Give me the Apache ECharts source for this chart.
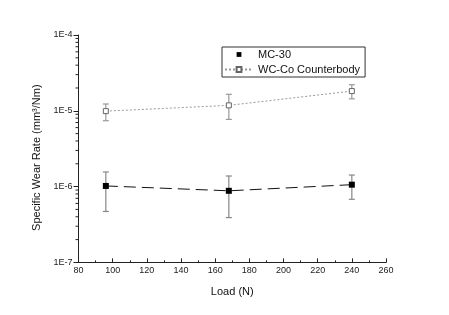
<!DOCTYPE html>
<html>
<head>
<meta charset="utf-8">
<script src="https://cdn.jsdelivr.net/npm/echarts@6/dist/echarts.min.js"></script>
<style>
html, body { margin: 0; padding: 0; background: #fff; }
#chart { width: 449px; height: 315px; }
</style>
</head>
<body>
<div id="chart"></div>
<script>
// data
var loads = [96, 168, 240];
var mcRate = [1.02e-6, 0.88e-6, 1.06e-6];
var mcHigh = [1.56e-6, 1.38e-6, 1.42e-6];
var mcLow = [0.47e-6, 0.39e-6, 0.68e-6];
var wcRate = [0.99e-5, 1.18e-5, 1.82e-5];
var wcHigh = [1.23e-5, 1.65e-5, 2.21e-5];
var wcLow = [0.74e-5, 0.77e-5, 1.44e-5];
var yMinorTicks = [
	2e-7, 3e-7, 4e-7, 5e-7, 6e-7, 7e-7, 8e-7, 9e-7,
	2e-6, 3e-6, 4e-6, 5e-6, 6e-6, 7e-6, 8e-6, 9e-6,
	2e-5, 3e-5, 4e-5, 5e-5, 6e-5, 7e-5, 8e-5, 9e-5
];

var font = 'Liberation Sans, Arial, sans-serif';

var pairs = function (xs, ys) {
	var out = [];
	for (var i = 0; i < xs.length; i++) out.push([xs[i], ys[i]]);
	return out;
};
var errData = function (lo, hi) {
	var out = [];
	for (var i = 0; i < loads.length; i++) out.push([loads[i], lo[i], hi[i]]);
	return out;
};

// vertical error bar with caps
var errorBar = function (color) {
	return function (params, api) {
		var x = api.value(0);
		var lo = api.coord([x, api.value(1)]);
		var hi = api.coord([x, api.value(2)]);
		var w = 3;
		var st = { stroke: color, lineWidth: 1.2 };
		return {
			type: 'group',
			children: [
				{ type: 'line', shape: { x1: lo[0], y1: lo[1], x2: hi[0], y2: hi[1] }, style: st },
				{ type: 'line', shape: { x1: lo[0] - w, y1: lo[1], x2: lo[0] + w, y2: lo[1] }, style: st },
				{ type: 'line', shape: { x1: hi[0] - w, y1: hi[1], x2: hi[0] + w, y2: hi[1] }, style: st }
			]
		};
	};
};

var myChart = echarts.init(document.getElementById('chart'));
var option = {
	animation: false,
	backgroundColor: '#fff',
	grid: { left: 78.5, right: 63, top: 35, bottom: 52.6 },
	legend: {
		orient: 'vertical',
		left: 222,
		top: 47,
		itemGap: 2,
		itemWidth: 28,
		itemHeight: 6,
		padding: [1, 5, 1, 2],
		borderColor: '#333',
		borderWidth: 1,
		textStyle: { fontFamily: font, fontSize: 11, lineHeight: 13, color: '#111' },
		data: [
			{ name: 'MC-30', lineStyle: { opacity: 0 } },
			{ name: 'WC-Co Counterbody' }
		]
	},
	xAxis: {
		type: 'value',
		min: 80,
		max: 260,
		interval: 20,
		name: 'Load (N)',
		nameLocation: 'middle',
		nameGap: 24,
		nameTextStyle: { fontFamily: font, fontSize: 11, color: '#111' },
		axisLine: { lineStyle: { color: '#222', width: 1 } },
		axisTick: { inside: true, length: 4, lineStyle: { color: '#222' } },
		minorTick: { show: true, splitNumber: 2, length: 2, lineStyle: { color: '#222' } },
		axisLabel: { fontFamily: font, fontSize: 9, color: '#222', margin: 4 },
		splitLine: { show: false }
	},
	yAxis: {
		type: 'log',
		logBase: 10,
		min: 1e-7,
		max: 1e-4,
		name: 'Specific Wear Rate (mm\u00b3/Nm)',
		nameLocation: 'middle',
		nameGap: 30,
		nameTextStyle: { fontFamily: font, fontSize: 11, color: '#111', padding: [0, 18, 0, 0] },
		axisLine: { show: true, lineStyle: { color: '#222', width: 1 } },
		axisTick: { show: true, length: 5, lineStyle: { color: '#222' } },
		axisLabel: {
			fontFamily: font, fontSize: 9, color: '#222', margin: 6,
			formatter: function (v) { return '1E' + Math.round(Math.log10(v)); }
		},
		splitLine: { show: false }
	},
	series: [
		{
			name: 'MC-30',
			type: 'line',
			data: pairs(loads, mcRate),
			symbol: 'rect',
			symbolSize: 6,
			itemStyle: { color: '#000' },
			lineStyle: { color: '#111', width: 1, type: [12, 6] },
			z: 5
		},
		{
			name: 'WC-Co Counterbody',
			type: 'line',
			data: pairs(loads, wcRate),
			symbol: 'rect',
			symbolSize: 5,
			itemStyle: { color: '#fff', borderColor: '#666', borderWidth: 1 },
			lineStyle: { color: '#999', width: 1, type: [2, 2] },
			z: 5
		},
		{
			type: 'custom',
			data: errData(mcLow, mcHigh),
			renderItem: errorBar('#888'),
			encode: { x: 0, y: [1, 2] },
			silent: true,
			z: 3
		},
		{
			type: 'custom',
			data: errData(wcLow, wcHigh),
			renderItem: errorBar('#999'),
			encode: { x: 0, y: [1, 2] },
			silent: true,
			z: 3
		},
		{
			// log minor ticks on the y axis
			type: 'custom',
			data: yMinorTicks.map(function (v) { return [80, v]; }),
			renderItem: function (params, api) {
				var p = api.coord([api.value(0), api.value(1)]);
				return {
					type: 'line',
					shape: { x1: p[0] - 3, y1: p[1], x2: p[0], y2: p[1] },
					style: { stroke: '#222', lineWidth: 1 }
				};
			},
			encode: { x: 0, y: 1 },
			silent: true,
			z: 2
		}
	]
};
myChart.setOption(option);
</script>
</body>
</html>
